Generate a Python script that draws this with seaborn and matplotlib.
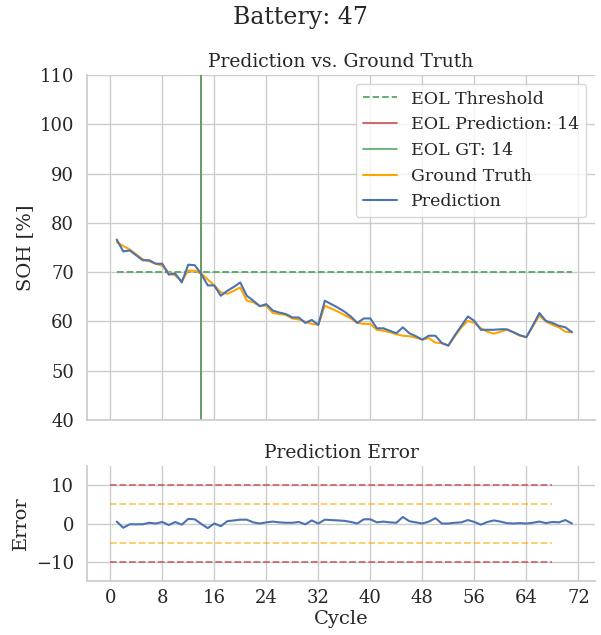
import numpy as np
import pandas as pd
import matplotlib
matplotlib.use("Agg")
import matplotlib.pyplot as plt
import seaborn as sns

battery_id = 47
eol_threshold = 70
eol_pred = 14
eol_gt = 14

cycles = list(range(1, 72))
soh_pred = [76.6, 74.2, 74.4, 73.4, 72.4, 72.4, 71.7, 71.7, 69.5, 69.7,
            67.9, 71.5, 71.4, 69.6, 67.3, 67.3, 65.2, 66.2, 67.0, 67.9,
            65.2, 64.2, 63.1, 63.5, 62.2, 61.8, 61.5, 60.8, 60.8, 59.7,
            60.3, 59.3, 64.2, 63.5, 62.8, 62.0, 61.0, 59.7, 60.6, 60.6,
            58.6, 58.6, 58.1, 57.6, 58.8, 57.6, 57.0, 56.3, 57.1, 57.1,
            55.6, 55.1, 57.2, 59.1, 61.0, 60.1, 58.3, 58.3, 58.3, 58.4,
            58.4, 57.8, 57.2, 56.8, 59.2, 61.7, 60.1, 59.7, 59.1, 58.8,
            57.8]
soh_gt = [76.1, 75.3, 74.6, 73.6, 72.6, 72.2, 71.7, 71.3, 69.9, 69.3,
          68.2, 70.3, 70.3, 69.7, 68.5, 67.3, 65.9, 65.6, 66.2, 66.9,
          64.2, 63.9, 63.1, 63.2, 61.7, 61.5, 61.3, 60.6, 60.4, 59.9,
          59.5, 59.3, 63.2, 62.6, 62.0, 61.3, 60.6, 59.7, 59.5, 59.5,
          58.3, 58.1, 57.8, 57.4, 57.1, 57.0, 56.7, 56.3, 56.6, 55.7,
          55.6, 55.1, 57.0, 58.8, 60.1, 59.7, 58.6, 57.9, 57.5, 57.9,
          58.3, 57.8, 57.1, 56.8, 59.0, 61.2, 60.0, 59.3, 58.8, 57.9,
          57.8]
error_bands = [10, 5]
x_ticks = list(range(0, 73, 8))
y_ticks = list(range(40, 111, 10))
err_ticks = [-10, 0, 10]

sns.set_theme(style="whitegrid", context="notebook")
plt.rcParams['font.family'] = ['DejaVu Serif']
plt.rcParams.update({
    "xtick.labelsize": 13, "ytick.labelsize": 13,
    "axes.labelsize": 14, "axes.titlesize": 13.5, "legend.fontsize": 12.5,
})

df = pd.DataFrame({"cycle": cycles, "pred": soh_pred, "gt": soh_gt})
df["err"] = df["pred"] - df["gt"]

fig, (ax1, ax2) = plt.subplots(2, 1, figsize=(6.01, 6.35), dpi=100, sharex=True,
                               gridspec_kw={"height_ratios": [3, 1]})
fig.subplots_adjust(left=0.145, right=0.99, top=0.882, bottom=0.085, hspace=0.2)

pal = sns.color_palette("deep")
blue, green, red = pal[0], pal[2], pal[3]

sns.lineplot(x=cycles, y=[eol_threshold] * len(cycles), ax=ax1, color=green,
             linestyle="--", linewidth=1.3, label="EOL Threshold")
ax1.axvline(eol_pred, color=red, linewidth=1.2, label=f"EOL Prediction: {eol_pred}")
ax1.axvline(eol_gt, color=green, linewidth=1.2, label=f"EOL GT: {eol_gt}")
sns.lineplot(data=df, x="cycle", y="gt", ax=ax1, color="orange", linewidth=1.5,
             label="Ground Truth")
sns.lineplot(data=df, x="cycle", y="pred", ax=ax1, color=blue, linewidth=1.5,
             label="Prediction")
ax1.set_ylim(40, 110)
ax1.set_yticks(y_ticks)
ax1.set_ylabel("SOH [%]")
ax1.set_xlabel("")
ax1.set_title("Prediction vs. Ground Truth")
ax1.legend(loc="upper right", labelspacing=0.5)

for b, c, a in [(error_bands[0], red, 0.8), (error_bands[1], "orange", 0.6)]:
    ax2.hlines([b, -b], 0, 68, colors=[c], linestyles="--", linewidth=1.3, alpha=a)
sns.lineplot(data=df, x="cycle", y="err", ax=ax2, color=blue, linewidth=1.5)
ax2.set_ylim(-15, 15)
ax2.set_yticks(err_ticks)
ax2.set_ylabel("Error")
ax2.set_xlabel("Cycle", labelpad=2)
ax2.set_title("Prediction Error")
ax2.set_xticks(x_ticks)
ax2.set_xlim(-3.55, 74.55)
ax2.tick_params(axis="x", pad=0)

sns.despine(fig)
fig.suptitle(f"Battery: {battery_id}", fontsize=17, y=0.99)
fig.savefig("out.png", dpi=100)
